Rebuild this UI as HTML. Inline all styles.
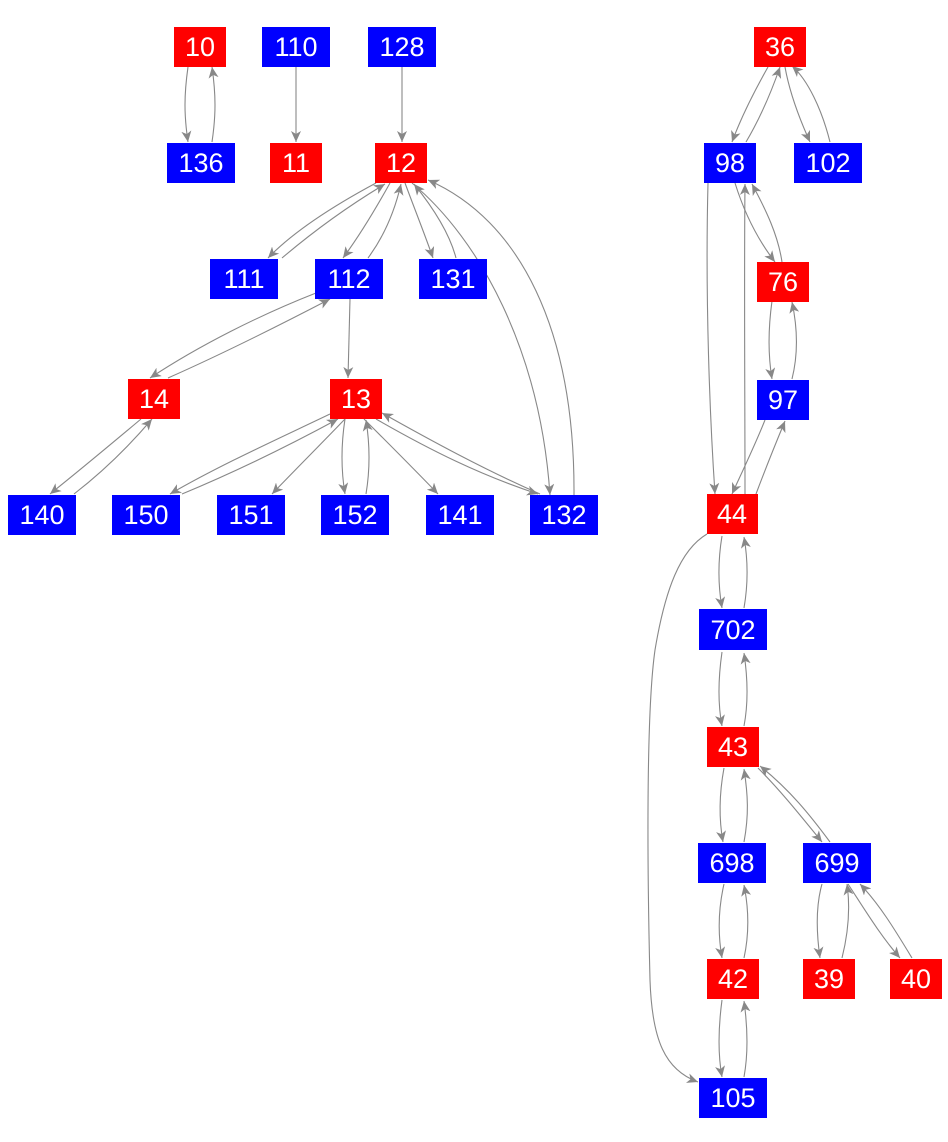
<!DOCTYPE html>
<html><head><meta charset="utf-8"><style>
html,body{margin:0;padding:0;background:#fff;}
svg{display:block;}
text{font-family:"Liberation Sans",Arial,sans-serif;font-size:27px;fill:#fff;text-anchor:middle;dominant-baseline:central;}
path{fill:none;stroke:#888;stroke-width:1.1;}
</style></head><body>
<svg width="948" height="1142" viewBox="0 0 948 1142" xmlns="http://www.w3.org/2000/svg">
<defs><marker id="a" markerUnits="userSpaceOnUse" markerWidth="12" markerHeight="10" refX="11" refY="5" orient="auto"><path d="M0,0 L11,5 L0,10 L3,5 Z" style="fill:#888;stroke:none"/></marker></defs>
<g marker-end="url(#a)">
<path d="M188,67 C184,95 184,115 188,142"/>
<path d="M212,142 C216,115 216,95 212,67"/>
<path d="M296,67 L296,142"/>
<path d="M402,67 L402,142"/>
<path d="M376,183 C335,205 295,230 268,258"/>
<path d="M282,258 C315,230 350,205 385,184"/>
<path d="M390,183 C375,210 360,235 343,258"/>
<path d="M368,258 C385,235 395,210 401,184"/>
<path d="M405,183 C415,210 425,235 433,258"/>
<path d="M456,258 C450,235 435,210 414,184"/>
<path d="M412,183 C480,240 540,350 550,495"/>
<path d="M574,495 C575,330 520,220 428,180"/>
<path d="M350,299 L348,378"/>
<path d="M316,293 C260,315 200,345 150,378"/>
<path d="M168,378 C220,355 280,325 330,299"/>
<path d="M141,419 C110,445 80,470 50,494"/>
<path d="M74,494 C105,470 130,445 152,419"/>
<path d="M330,414 C280,438 220,465 170,494"/>
<path d="M182,494 C235,472 290,445 338,419"/>
<path d="M345,419 C320,445 295,470 272,494"/>
<path d="M345,419 C341,445 341,470 345,494"/>
<path d="M366,494 C370,470 370,445 366,420"/>
<path d="M364,419 C390,445 415,470 438,494"/>
<path d="M376,419 C430,450 480,475 538,494"/>
<path d="M540,494 C485,470 430,440 382,413"/>
<path d="M768,67 C755,90 742,115 732,142"/>
<path d="M746,142 C762,115 772,90 780,67"/>
<path d="M785,67 C790,95 800,120 810,142"/>
<path d="M830,142 C822,110 808,80 792,66"/>
<path d="M735,183 C745,215 758,240 775,262"/>
<path d="M782,262 C778,235 766,210 752,184"/>
<path d="M708,183 C705,300 710,420 715,494"/>
<path d="M745,494 C745,400 744,280 745,184"/>
<path d="M772,301 C768,330 768,355 772,379"/>
<path d="M792,379 C798,355 798,330 792,302"/>
<path d="M765,420 C755,445 743,470 732,494"/>
<path d="M756,494 C765,470 775,445 785,421"/>
<path d="M722,536 C718,560 718,585 722,608"/>
<path d="M744,608 C748,585 748,560 744,537"/>
<path d="M707,534 C680,550 665,590 655,650 C645,720 648,900 650,980 C652,1040 665,1070 698,1082"/>
<path d="M722,652 C718,680 718,705 722,726"/>
<path d="M744,726 C748,705 748,680 744,653"/>
<path d="M724,768 C719,795 719,820 723,842"/>
<path d="M744,842 C749,815 748,795 744,769"/>
<path d="M758,768 C780,790 800,815 822,842"/>
<path d="M830,842 C810,815 790,790 760,766"/>
<path d="M724,884 C718,910 718,935 722,958"/>
<path d="M744,958 C749,935 749,910 744,885"/>
<path d="M822,884 C816,905 816,930 820,958"/>
<path d="M842,958 C849,930 850,905 847,884"/>
<path d="M848,884 C865,910 880,935 900,958"/>
<path d="M912,958 C895,930 880,905 860,884"/>
<path d="M722,1000 C718,1030 718,1055 722,1077"/>
<path d="M744,1077 C748,1055 748,1030 744,1001"/>
</g>
<g>
<rect x="174" y="27" width="52" height="40" fill="#f00"/><text x="200" y="47">10</text>
<rect x="262" y="27" width="68" height="40" fill="#00f"/><text x="296" y="47">110</text>
<rect x="368" y="27" width="68" height="40" fill="#00f"/><text x="402" y="47">128</text>
<rect x="167" y="143" width="68" height="40" fill="#00f"/><text x="201" y="163">136</text>
<rect x="270" y="143" width="52" height="40" fill="#f00"/><text x="296" y="163">11</text>
<rect x="375" y="143" width="52" height="40" fill="#f00"/><text x="401" y="163">12</text>
<rect x="754" y="27" width="52" height="40" fill="#f00"/><text x="780" y="47">36</text>
<rect x="704" y="143" width="52" height="40" fill="#00f"/><text x="730" y="163">98</text>
<rect x="794" y="143" width="68" height="40" fill="#00f"/><text x="828" y="163">102</text>
<rect x="210" y="259" width="68" height="40" fill="#00f"/><text x="244" y="279">111</text>
<rect x="315" y="259" width="68" height="40" fill="#00f"/><text x="349" y="279">112</text>
<rect x="419" y="259" width="68" height="40" fill="#00f"/><text x="453" y="279">131</text>
<rect x="757" y="262" width="52" height="40" fill="#f00"/><text x="783" y="282">76</text>
<rect x="128" y="379" width="52" height="40" fill="#f00"/><text x="154" y="399">14</text>
<rect x="330" y="379" width="52" height="40" fill="#f00"/><text x="356" y="399">13</text>
<rect x="757" y="380" width="52" height="40" fill="#00f"/><text x="783" y="400">97</text>
<rect x="8" y="495" width="68" height="40" fill="#00f"/><text x="42" y="515">140</text>
<rect x="112" y="495" width="68" height="40" fill="#00f"/><text x="146" y="515">150</text>
<rect x="217" y="495" width="68" height="40" fill="#00f"/><text x="251" y="515">151</text>
<rect x="321" y="495" width="68" height="40" fill="#00f"/><text x="355" y="515">152</text>
<rect x="426" y="495" width="68" height="40" fill="#00f"/><text x="460" y="515">141</text>
<rect x="530" y="495" width="68" height="40" fill="#00f"/><text x="564" y="515">132</text>
<rect x="707" y="494" width="51" height="40" fill="#f00"/><text x="732" y="514">44</text>
<rect x="699" y="609" width="68" height="41" fill="#00f"/><text x="733" y="630">702</text>
<rect x="707" y="727" width="52" height="40" fill="#f00"/><text x="733" y="747">43</text>
<rect x="698" y="843" width="68" height="40" fill="#00f"/><text x="732" y="863">698</text>
<rect x="803" y="843" width="68" height="40" fill="#00f"/><text x="837" y="863">699</text>
<rect x="707" y="959" width="52" height="40" fill="#f00"/><text x="733" y="979">42</text>
<rect x="803" y="959" width="52" height="40" fill="#f00"/><text x="829" y="979">39</text>
<rect x="890" y="959" width="52" height="40" fill="#f00"/><text x="916" y="979">40</text>
<rect x="699" y="1078" width="68" height="40" fill="#00f"/><text x="733" y="1098">105</text>
</g>
</svg>
</body></html>
